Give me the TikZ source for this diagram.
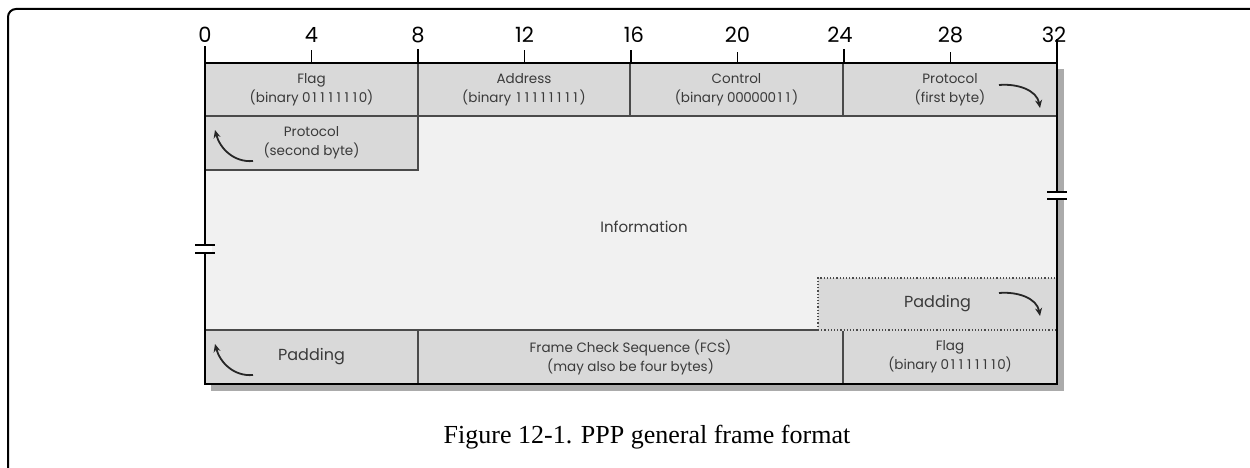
\documentclass[tikz,border=0pt]{standalone}
\usepackage{fontspec}
\setmainfont{Liberation Serif}
\newfontfamily\figfont{Poppins}
\usetikzlibrary{arrows.meta,calc}
\makeatletter
\newcommand\tabnum[1]{\@tfor\tn@c:=#1\do{\makebox[0.6em]{\tn@c}}}
\makeatother
\definecolor{boxgray}{HTML}{D9D9D9}
\definecolor{infogray}{HTML}{F1F1F1}
\definecolor{shadowgray}{HTML}{ABABAB}
\definecolor{txt}{HTML}{3A3A3A}
\definecolor{edge}{HTML}{4A4A4A}
\tikzset{
  field/.style={fill=boxgray, draw=edge, line width=1.2pt, anchor=north west, inner sep=0pt, outer sep=0pt,
    align=center, font=\figfont\fontsize{13.5}{19}\selectfont, text=txt},
  bitnum/.style={font=\figfont\fontsize{21}{21}\selectfont, text=black, anchor=base},
  frameline/.style={line width=2.2pt, draw=black},
  curarrow/.style={line width=1.8pt, draw=black!85, -{Stealth[length=8pt,width=7pt]}},
  breakmark/.style={line width=2pt, draw=black}
}
\begin{document}
\begin{tikzpicture}[x=1pt,y=-1pt]
\useasboundingbox (0,0) rectangle (1250,468);
% page frame
\draw[line width=2pt, rounded corners=8pt] (8,500) -- (8,9) -- (1260,9);
% shadow
\fill[shadowgray] (211,69) rectangle (1064,391);
% information area
\fill[infogray] (205,63) rectangle (1057,384);
% rows
\node[field, minimum width=213pt, minimum height=53pt] (flag) at (205,63) {Flag\\(binary \tabnum{01111110})};
\node[field, minimum width=212pt, minimum height=53pt] (addr) at (418,63) {Address\\(binary \tabnum{11111111})};
\node[field, minimum width=213pt, minimum height=53pt] (ctrl) at (630,63) {Control\\(binary \tabnum{00000011})};
\node[field, minimum width=214pt, minimum height=53pt] (proto1) at (843,63) {Protocol\\(first byte)};
\node[field, minimum width=213pt, minimum height=54pt] (proto2) at (205,116) {Protocol\\(second byte)};
\node[font=\figfont\fontsize{15}{17}\selectfont, text=txt] (info) at (644,227) {Information};
% padding right (dotted)
\node[field, draw=none, minimum width=239pt, minimum height=52pt] (pad1) at (818,278) {\fontsize{16}{17}\selectfont Padding};
\draw[line width=1.2pt, dotted, draw=edge] (pad1.south west) -- (pad1.north west) -- (pad1.north east);
% bottom row
\node[field, minimum width=213pt, minimum height=54pt] (pad2) at (205,330) {\fontsize{16}{17}\selectfont Padding};
\node[field, minimum width=425pt, minimum height=54pt] (fcs) at (418,330) {Frame Check Sequence (FCS)\\(may also be four bytes)};
\node[field, minimum width=214pt, minimum height=54pt] (flag2) at (843,330) {Flag\\(binary \tabnum{01111110})};
\draw[line width=1.2pt, draw=boxgray] (pad1.south west) -- (pad1.south east);
\draw[line width=1.2pt, dotted, draw=edge] (pad1.south west) -- (pad1.south east);
% outer frame
\draw[frameline] (205,63) -- (1057,63) -- (1057,384) -- (205,384) -- cycle;
% ticks and numbers
\foreach \b/\h in {0/17,4/13,8/14,12/13,16/13,20/11,24/14,28/11,32/24} {
  \pgfmathsetmacro{\xx}{205+\b*26.625}
  \draw[line width=1.8pt] (\xx,63) -- (\xx,63-\h);
}
\node[bitnum] (n0) at (205,43) {0};
\node[bitnum] (n4) at (311.5,43) {4};
\node[bitnum] (n8) at (418,43) {8};
\node[bitnum] (n12) at (524.5,43) {12};
\node[bitnum] (n16) at (634,43) {16};
\node[bitnum] (n20) at (737.5,43) {20};
\node[bitnum] (n24) at (840,43) {24};
\node[bitnum] (n28) at (950.5,43) {28};
\node[bitnum] (n32) at (1054,43) {32};
% curved arrows
\draw[curarrow] ($(proto1.north east)+(-58,22)$) to[out=5,in=100] ($(proto1.north east)+(-17,45)$);
\draw[curarrow] ($(proto2.north west)+(48,45)$) to[out=185,in=-75] ($(proto2.north west)+(10,14)$);
\draw[curarrow] ($(pad1.north east)+(-58,15)$) to[out=5,in=100] ($(pad1.north east)+(-17,38)$);
\draw[curarrow] ($(pad2.north west)+(48,45)$) to[out=185,in=-75] ($(pad2.north west)+(10,14)$);
% break marks
\fill[white] (198,246) rectangle (212,252);
\draw[breakmark] (195,245) -- (215,245);
\draw[breakmark] (195,253) -- (215,253);
\fill[white] (1050,193) rectangle (1064,198);
\draw[breakmark] (1047,192) -- (1067,192);
\draw[breakmark] (1047,199) -- (1067,199);
% caption
\node[font=\fontsize{26}{28}\selectfont, anchor=base] (cap) at (647,443) {Figure 12-1. PPP general frame format};
\end{tikzpicture}
\end{document}
